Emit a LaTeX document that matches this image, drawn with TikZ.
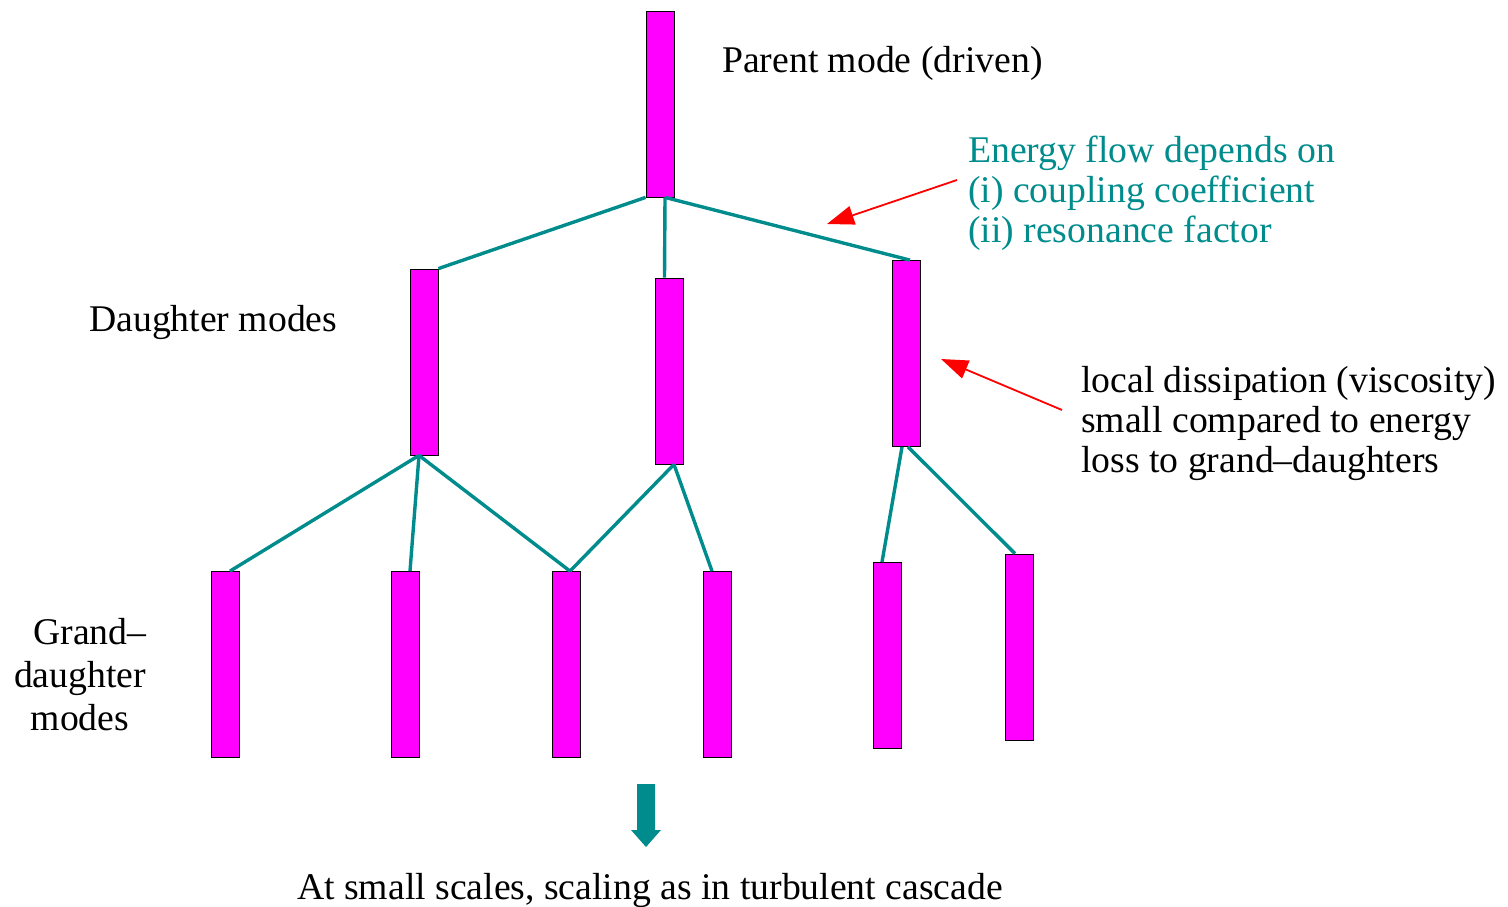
\documentclass[tikz,border=0pt]{standalone}
\usepackage{fontspec}
\setmainfont{Liberation Serif}
\usetikzlibrary{arrows.meta}
\definecolor{flowteal}{RGB}{0,140,140}
\definecolor{modemag}{RGB}{255,0,255}
\definecolor{noteRed}{RGB}{255,0,0}
\begin{document}
\begin{tikzpicture}[x=1pt,y=-1pt,
  modebar/.style={rectangle,draw=black,line width=0.8pt,fill=modemag,
    minimum width=28pt,minimum height=186pt,inner sep=0pt},
  coupling/.style={draw=flowteal,line width=3.4pt},
  pointer/.style={draw=noteRed,line width=1.8pt,
    -{Triangle[length=27pt,width=19pt]}},
  lbl/.style={inner sep=0pt,font=\fontsize{37.7}{40}\selectfont},
  note/.style={lbl,align=left,anchor=base west}]
\useasboundingbox (0,0) rectangle (1508,907);

% parent, daughter and grand-daughter modes
\node[modebar] (P)  at (660,104) {};
\node[modebar] (D1) at (424,362) {};
\node[modebar] (D2) at (669.5,371) {};
\node[modebar] (D3) at (906,353.5) {};
\node[modebar] (G1) at (225.5,664.5) {};
\node[modebar] (G2) at (405,664.5) {};
\node[modebar] (G3) at (566,664.5) {};
\node[modebar] (G4) at (717,664.5) {};
\node[modebar] (G5) at (887,655.5) {};
\node[modebar] (G6) at (1019,647) {};

% couplings between modes
\draw[coupling] (P.south west) -- (D1.north east);
\draw[coupling] ([xshift=5pt]P.south) -- ([xshift=-5pt]D2.north);
\draw[coupling] ([xshift=5pt]P.south) -- ([xshift=4pt]D3.north);
\draw[coupling] ([xshift=-5pt]D1.south) -- ([xshift=4.5pt]G1.north);
\draw[coupling] ([xshift=-5pt]D1.south) -- ([xshift=5pt]G2.north);
\draw[coupling] ([xshift=-5pt]D1.south) -- ([xshift=4pt]G3.north);
\draw[coupling] ([xshift=4.5pt]D2.south) -- ([xshift=4pt]G3.north);
\draw[coupling] ([xshift=4.5pt]D2.south) -- ([xshift=-5pt]G4.north);
\draw[coupling] ([xshift=-4pt]D3.south) -- ([xshift=-5pt]G5.north);
\draw[coupling] ([xshift=2pt]D3.south) -- ([xshift=-4pt]G6.north);

% labels (a multi-line node sits on the baseline of its last line)
\node[note] (parentlbl) at (722,73) {Parent mode (driven)};
\node[note,text=flowteal] (flowlbl) at (968,242)
  {Energy flow depends on\\(i) coupling coefficient\\(ii) resonance factor};
\node[note] (daughterlbl) at (89,331) {Daughter modes};
\node[note] (losslbl) at (1081,472)
  {local dissipation (viscosity)\\small compared to energy\\loss to grand--daughters};
\node[lbl,align=center,anchor=base,font=\fontsize{37.7}{43}\selectfont] (grandlbl) at (80,730)
  {\hspace*{20pt}Grand--\\daughter\\modes};
\node[lbl,anchor=base] (cascadelbl) at (650,899)
  {At small scales, scaling as in turbulent cascade};

% annotation pointers
\coordinate (flowtip) at (827,224);
\coordinate (flowstart) at (957,180);
\draw[pointer] (flowstart) -- (flowtip);
\coordinate (losstip) at (941,359);
\coordinate (lossstart) at (1062,410);
\draw[pointer] (lossstart) -- (losstip);

% cascade arrow
\fill[flowteal] (637,784) -- (655,784) -- (655,830) -- (661,830) -- (646,847)
  -- (631,830) -- (637,830) -- cycle;
\end{tikzpicture}
\end{document}
